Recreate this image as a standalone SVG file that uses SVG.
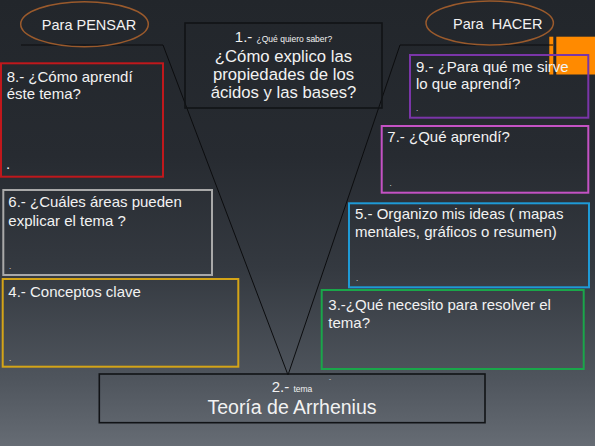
<svg xmlns="http://www.w3.org/2000/svg" width="595" height="446" viewBox="0 0 595 446">
<defs>
<linearGradient id="bg" x1="0" y1="0" x2="0" y2="1">
<stop offset="0" stop-color="#22262b"/>
<stop offset="0.35" stop-color="#272b31"/>
<stop offset="0.6" stop-color="#343940"/>
<stop offset="0.85" stop-color="#4f555d"/>
<stop offset="1" stop-color="#666c74"/>
</linearGradient>
</defs>
<style>
text{font-family:"Liberation Sans",Arial,sans-serif;fill:#f2f2f2}
.t{font-size:15px}
.big{font-size:16.7px}
.sm{font-size:8.5px}
.dot{font-size:8px}
.box{fill:none;stroke-width:2}
.k{fill:none;stroke:#111316;stroke-width:1.6}
.ell{fill:none;stroke:#9a5a2c;stroke-width:1.5}
.ln{fill:none;stroke:#0c0d0f;stroke-width:1}
</style>
<rect x="0" y="0" width="595" height="446" fill="url(#bg)"/>
<g id="deco">
<rect x="549.3" y="36.7" width="4" height="37.8" fill="#ff8a00"/>
<rect x="556.3" y="36.7" width="38.7" height="37.8" fill="#ff8a00"/>
</g>
<g id="connectors">
<polyline class="ln" points="21,45 163,45 288,375 400,45 553,45"/>
</g>
<g id="pensar">
<ellipse class="ell" cx="84.5" cy="24.2" rx="63.8" ry="22.5"/>
<text x="89" y="29.5" class="t" style="font-size:14.5px" text-anchor="middle">Para PENSAR</text>
</g>
<g id="hacer">
<ellipse class="ell" cx="489.7" cy="23" rx="63.7" ry="22"/>
<text x="497.7" y="28.5" class="t" style="font-size:14.5px" text-anchor="middle" xml:space="preserve">Para  HACER</text>
</g>
<g id="n1">
<rect class="k" x="185" y="23" width="197" height="85"/>
<text x="283.5" y="41.7" text-anchor="middle"><tspan class="t">1.- </tspan><tspan class="sm">¿Qué quiero saber?</tspan></text>
<text x="283.5" y="62.3" class="big" text-anchor="middle">¿Cómo explico las</text>
<text x="283.5" y="80.3" class="big" text-anchor="middle">propiedades de los</text>
<text x="283.5" y="98.3" class="big" text-anchor="middle">ácidos y las bases?</text>
</g>
<g id="n8">
<rect class="box" x="1" y="63.3" width="162" height="113.4" stroke="#c0181c"/>
<text x="6.7" y="81.7" class="t">8.- ¿Cómo aprendí</text>
<text x="6.7" y="99.3" class="t">éste tema?</text>
<text x="6" y="169" class="t">.</text>
</g>
<g id="n6">
<rect class="box" x="3.3" y="190" width="208.7" height="85" stroke="#a9a9a9"/>
<text x="8.3" y="207.3" class="t">6.- ¿Cuáles áreas pueden</text>
<text x="8.3" y="225.7" class="t">explicar el tema ?</text>
<text x="9" y="269" class="dot">.</text>
</g>
<g id="n4">
<rect class="box" x="2.7" y="279" width="235.6" height="87.7" stroke="#d4a417"/>
<text x="8.3" y="296.7" class="t">4.- Conceptos clave</text>
<text x="9" y="361" class="dot">.</text>
</g>
<g id="n9">
<rect class="box" x="410" y="55" width="178.3" height="62.7" stroke="#7a35a8"/>
<text x="416" y="71.7" class="t">9.- ¿Para qué me sirve</text>
<text x="416" y="89.3" class="t">lo que aprendí?</text>
<text x="416" y="111" class="dot">.</text>
</g>
<g id="n7">
<rect class="box" x="381.7" y="126" width="206.6" height="66.7" stroke="#c452c4"/>
<text x="387.3" y="141.7" class="t">7.- ¿Qué aprendí?</text>
<text x="389.5" y="186" class="dot">.</text>
</g>
<g id="n5">
<rect class="box" x="349" y="203.3" width="240" height="84" stroke="#1e9ad6"/>
<text x="355" y="219.3" class="t">5.- Organizo mis ideas ( mapas</text>
<text x="355" y="237.3" class="t">mentales, gráficos o resumen)</text>
<text x="356" y="281" class="dot">.</text>
</g>
<g id="n3">
<rect class="box" x="321.7" y="290" width="262" height="79" stroke="#1aa64a"/>
<text x="328.3" y="310" class="t">3.-¿Qué necesito para resolver el</text>
<text x="328.3" y="327.7" class="t">tema?</text>
</g>
<g id="n2">
<rect class="k" x="99.3" y="374" width="385.7" height="48.7"/>
<text x="292" y="391.7" text-anchor="middle"><tspan class="t">2.- </tspan><tspan class="sm">tema</tspan></text>
<text x="329" y="381" class="dot" style="font-size:6px">-</text>
<text x="292" y="414.3" text-anchor="middle" style="font-size:19.5px">Teoría de Arrhenius</text>
</g>
</svg>
